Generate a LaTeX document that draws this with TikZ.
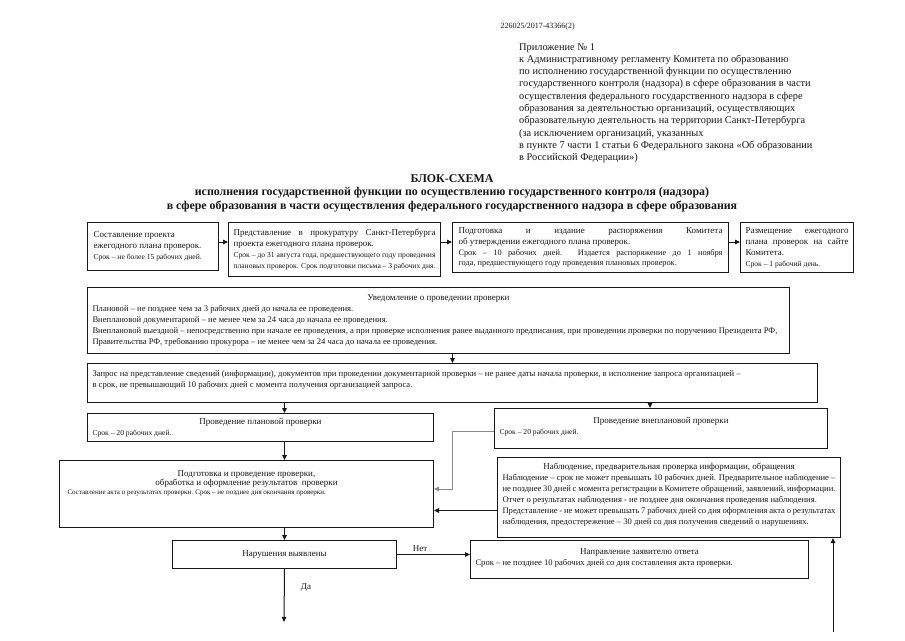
\documentclass[tikz,border=0pt]{standalone}
\usepackage{fontspec}
\setmainfont{Liberation Serif}
\usepackage{tikz}
\usetikzlibrary{calc,arrows.meta}
\definecolor{ink}{HTML}{161616}
\definecolor{faint}{HTML}{8A8A8A}
\newcommand\fmain{\fontsize{9}{11}\selectfont}
\newcommand\fmid{\fontsize{8.6}{11}\selectfont}
\newcommand\fsmall{\fontsize{7.6}{10.8}\selectfont}
\newcommand\ftiny{\fontsize{7}{9}\selectfont}
\tikzset{
  box/.style={draw=ink, line width=1pt, anchor=north west, inner xsep=5pt, inner ysep=2pt, align=justify, font=\fmain, text=ink},
  arr/.style={draw=ink, line width=1pt, -{Triangle[length=5pt,width=4.5pt]}},
  arrg/.style={draw=faint, line width=1pt, -{Triangle[length=5pt,width=4.5pt]}},
  lab/.style={text=ink, font=\fmain},
}

\begin{document}
\begin{tikzpicture}[x=1pt,y=-1pt]
  \useasboundingbox[fill=white] (0,0) rectangle (905,640);

  % heading
  \node[anchor=west, font=\fontsize{8}{10}\selectfont, text=ink] (code) at (497,27) {226025/2017-43366(2)};
  \node[anchor=north west, align=left, inner sep=0pt, text=ink, font=\fontsize{10.35}{12.3}\selectfont] (appx) at (519,43)
    {Приложение № 1\\
     к Административному регламенту Комитета по образованию\\
     по исполнению государственной функции по осуществлению\\
     государственного контроля (надзора) в сфере образования в части\\
     осуществления федерального государственного надзора в сфере\\
     образования за деятельностью организаций, осуществляющих\\
     образовательную деятельность на территории Санкт-Петербурга\\
     (за исключением организаций, указанных\\
     в пункте 7 части 1 статьи 6 Федерального закона «Об образовании\\
     в Российской Федерации»)};
  \node[align=center, text=ink, font=\bfseries\fontsize{11.9}{13.5}\selectfont] (title) at (452,193)
    {БЛОК-СХЕМА\\
     исполнения государственной функции по осуществлению государственного контроля (надзора)\\
     в сфере образования в части осуществления федерального государственного надзора в сфере образования};

  % planning row
  \node[box, minimum width=131pt, minimum height=48pt, text width=119pt] (b1) at (87,222)
    {Составление проекта\\ ежегодного плана проверок.\\ {\fsmall Срок – не более 15 рабочих дней.}};
  \node[box, minimum width=212pt, minimum height=54pt, text width=202pt] (b2) at (228,222)
    {Представление в прокуратуру Санкт-Петербурга\linebreak проекта ежегодного плана проверок.\par
     {\fsmall Срок – до 31 августа года, предшествующего году проведения\linebreak плановых проверок. Срок подготовки письма – 3 рабочих дня.\par}};
  \node[box, minimum width=276pt, minimum height=50pt, text width=264pt] (b3) at (452,222)
    {Подготовка и издание распоряжения Комитета\linebreak об утверждении ежегодного плана проверок.\par
     {\fontsize{8.3}{10.8}\selectfont Срок – 10 рабочих дней. Издается распоряжение до 1 ноября\linebreak года, предшествующего году проведения плановых проверок.\par}};
  \node[box, minimum width=113pt, minimum height=50pt, text width=103pt] (b4) at (740,222)
    {Размещение ежегодного\linebreak плана проверок на сайте\linebreak Комитета.\par
     {\fsmall Срок – 1 рабочий день.\par}};

  % notification and request
  \node[box, minimum width=702pt, minimum height=66pt, text width=692pt] (note) at (87,287)
    {\centerline{Уведомление о проведении проверки}
     {\fmid Плановой – не позднее чем за 3 рабочих дней до начала ее проведения.\\
      Внеплановой документарной – не менее чем за 24 часа до начала ее проведения.\\
      Внеплановой выездной – непосредственно при начале ее проведения, а при проверке исполнения ранее выданного предписания, при проведении проверки по поручению Президента РФ,\\
      Правительства РФ, требованию прокурора – не менее чем за 24 часа до начала ее проведения.\par}};
  \node[box, minimum width=730pt, minimum height=39pt, text width=720pt] (zap) at (87,363)
    {{\fmid Запрос на представление сведений (информации), документов при проведении документарной проверки – не ранее даты начала проверки, в исполнение запроса организацией –\\
      в срок, не превышающий 10 рабочих дней с момента получения организацией запроса.\par}\vspace*{6pt}};

  % checks
  \node[box, minimum width=346pt, minimum height=28pt, text width=336pt] (plan) at (87,413)
    {\centerline{Проведение плановой проверки}
     {\fsmall Срок – 20 рабочих дней.\par}};
  \node[box, minimum width=333pt, minimum height=40pt, text width=323pt] (unpl) at (494,408)
    {\centerline{Проведение внеплановой проверки}
     {\fsmall Срок – 20 рабочих дней.\par}\vspace*{4pt}};
  \node[box, minimum width=374pt, minimum height=67pt, text width=364pt] (prep) at (59,460)
    {\centerline{Подготовка и проведение проверки,}
     \centerline{обработка и оформление результатов~ проверки}
     {\ftiny\hspace*{3pt}Составление акта о результатах проверки. Срок – не позднее дня окончания проверки.\par}\vspace*{22pt}};
  \node[box, minimum width=343pt, minimum height=80pt, text width=333pt] (obs) at (497,457)
    {\centerline{Наблюдение, предварительная проверка информации, обращения}
     {\fmid Наблюдение – срок не может превышать 10 рабочих дней. Предварительное наблюдение –\\
      не позднее 30 дней с момента регистрации в Комитете обращений, заявлений, информации.\\
      Отчет о результатах наблюдения - не позднее дня окончания проведения наблюдения.\\
      Представление - не может превышать 7 рабочих дней со дня оформления акта о результатах\linebreak
      наблюдения, предостережение – 30 дней со дня получения сведений о нарушениях.\par}\vspace*{6pt}};

  % outcome
  \node[box, align=center, minimum width=224pt, minimum height=28pt] (viol) at (172,540) {Нарушения выявлены};
  \node[box, minimum width=338pt, minimum height=38pt, text width=328pt] (ans) at (470,540)
    {\centerline{Направление заявителю ответа}
     {\fmid Срок – не позднее 10 рабочих дней со дня составления акта проверки.\par}\vspace*{4pt}};
  \node[lab] (no) at (420,549) {Нет};
  \node[lab] (yes) at (306,588) {Да};
  \coordinate (out) at (284,622);
  \coordinate (inobs) at (833,632);
  \coordinate (j1) at (452,489);

  \draw[arr] ([yshift=-20pt]b1.north east) -- ([yshift=-20pt]b1.north east -| b2.west);
  \draw[arr] ([yshift=-20pt]b2.north east) -- ([yshift=-20pt]b2.north east -| b3.west);
  \draw[arr] ([yshift=-20pt]b3.north east) -- ([yshift=-20pt]b3.north east -| b4.west);
  \draw[arr] (note.south -| zap) -- (zap.north);
  \draw[arr] (zap.south -| viol) -- (plan.north -| viol);
  \draw[arr] (zap.south -| 650,0) -- (unpl.north -| 650,0);
  \draw[arr] (plan.south -| viol) -- (prep.north -| viol);
  \draw[arrg] ([yshift=-3pt]unpl.west) -| (j1) -- (j1 -| prep.east);
  \draw[arr] ([yshift=-13pt]obs.west) -- ([yshift=-13pt]obs.west -| prep.east);
  \draw[arr] (inobs) -- (inobs |- obs.south);
  \draw[arr] (prep.south -| viol) -- (viol.north);
  \draw[arr] (viol.east) -- (viol.east -| ans.west);
  \draw[arr] (viol.south) -- (out);
\end{tikzpicture}
\end{document}
